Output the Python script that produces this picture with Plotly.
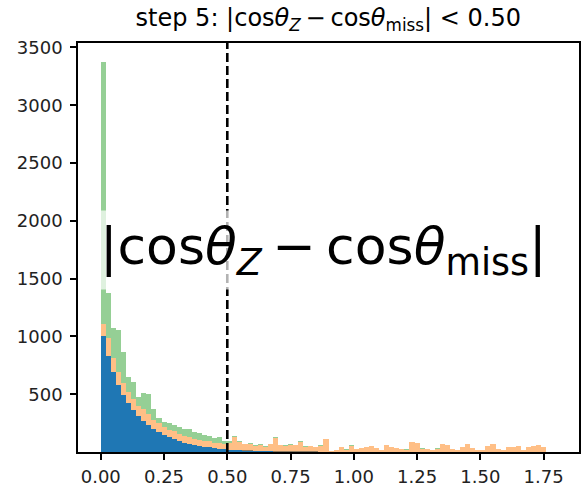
import numpy as np
import plotly.graph_objects as go

# Histogram binning: 90 bins of width 0.02 on [0, 1.8]
bin_width = 0.02
n_bins = 90
bin_edges = np.linspace(0.0, bin_width * n_bins, n_bins + 1)
bin_centers = 0.5 * (bin_edges[:-1] + bin_edges[1:])

# Stacked counts per bin (bottom to top)
blue_counts = [
    1000, 830, 690, 580, 495, 425, 365, 312, 268, 232,
    200, 172, 148, 127, 110, 95, 82, 70, 60, 52,
    45, 39, 33, 28, 24, 20, 17, 14, 12, 10,
    8, 7, 6, 5, 4, 3, 3, 2, 2, 1,
    1, 1, 1, 0, 0, 0, 0, 0, 0, 0,
    0, 0, 0, 0, 0, 0, 0, 0, 0, 0,
    0, 0, 0, 0, 0, 0, 0, 0, 0, 0,
    0, 0, 0, 0, 0, 0, 0, 0, 0, 0,
    0, 0, 0, 0, 0, 0, 0, 0, 0, 0,
]
orange_counts = [
    110, 160, 120, 110, 100, 95, 90, 85, 100, 95,
    80, 75, 70, 65, 70, 60, 55, 60, 55, 50,
    50, 55, 45, 50, 45, 60, 115, 70, 55, 60,
    45, 55, 40, 60, 120, 55, 50, 60, 55, 85,
    45, 50, 40, 55, 110, 10, 15, 40, 20, 55,
    25, 35, 45, 50, 35, 15, 60, 40, 35, 25,
    20, 85, 75, 30, 25, 20, 30, 70, 60, 25,
    20, 40, 70, 35, 20, 15, 55, 65, 25, 20,
    40, 45, 55, 15, 45, 50, 60, 45, 0, 3,
]
green_counts = [
    2260, 386, 263, 366, 273, 132, 153, 83, 142, 178,
    90, 43, 42, 58, 55, 60, 63, 65, 60, 63,
    55, 46, 42, 52, 26, 12, 10, 8, 6, 9,
    5, 7, 4, 6, 8, 5, 4, 6, 3, 5,
    4, 3, 5, 2, 4, 2, 1, 3, 2, 3,
    2, 1, 2, 3, 1, 2, 3, 1, 2, 1,
    2, 1, 3, 2, 1, 1, 2, 1, 2, 1,
    1, 2, 1, 1, 0, 1, 1, 2, 1, 0,
    1, 1, 1, 0, 1, 0, 1, 0, 0, 0,
]

cut_value = 0.50
y_ticks = [500, 1000, 1500, 2000, 2500, 3000, 3500]
x_ticks = [0.00, 0.25, 0.50, 0.75, 1.00, 1.25, 1.50, 1.75]

font_family = "DejaVu Sans"
var_label = "|cos<i>θ</i><sub><i>Z</i></sub>\u2009−\u2009cos<i>θ</i><sub>miss</sub>|"

fig = go.Figure()
series = [
    (blue_counts, "rgb(31,119,180)"),
    (orange_counts, "rgba(255,127,14,0.5)"),
    (green_counts, "rgba(44,160,44,0.5)"),
]
for counts, color in series:
    fig.add_trace(go.Bar(
        x=bin_centers,
        y=counts,
        width=bin_width,
        marker=dict(color=color, line=dict(width=0)),
        showlegend=False,
        hoverinfo="skip",
    ))

totals = np.array(blue_counts) + np.array(orange_counts) + np.array(green_counts)
x_span = bin_edges[-1] - bin_edges[0]
x_range = [bin_edges[0] - 0.05 * x_span, bin_edges[-1] + 0.05 * x_span]
y_range = [0, 1.05 * totals.max()]

# Cut position
fig.add_shape(
    type="line", xref="x", yref="paper",
    x0=cut_value, x1=cut_value, y0=0, y1=1,
    line=dict(color="black", width=2.6, dash="9px,4px"),
    layer="above",
)

# Variable name written across the axes
fig.add_annotation(
    xref="paper", yref="paper", x=0.49, y=0.495,
    text=var_label, showarrow=False,
    font=dict(family=font_family, size=52, color="black"),
    bgcolor="rgba(255,255,255,0.7)",
    borderpad=5,
    xanchor="center", yanchor="middle",
)

axis_common = dict(
    showline=True, mirror=True, linecolor="black", linewidth=1.5,
    ticks="outside", ticklen=6, tickwidth=1.5, tickcolor="black",
    showgrid=False, zeroline=False, automargin=False,
    tickfont=dict(family=font_family, size=18, color="#222222"),
)

fig.update_layout(
    width=581, height=487,
    margin=dict(l=78, r=2, t=43, b=35),
    paper_bgcolor="white", plot_bgcolor="white",
    barmode="stack", bargap=0,
    title=dict(
        text=f"step 5: {var_label} &lt; {cut_value:.2f}",
        x=0.565, xanchor="center", y=0.963, yanchor="middle",
        font=dict(family=font_family, size=24, color="black"),
    ),
    xaxis=dict(
        range=x_range, tickvals=x_ticks,
        ticktext=[f"{v:.2f}" for v in x_ticks],
        ticklabelstandoff=2,
        **axis_common,
    ),
    yaxis=dict(
        range=y_range, tickvals=y_ticks,
        ticktext=[str(v) for v in y_ticks],
        ticklabelstandoff=4,
        **axis_common,
    ),
)

fig.write_html("out.html")
